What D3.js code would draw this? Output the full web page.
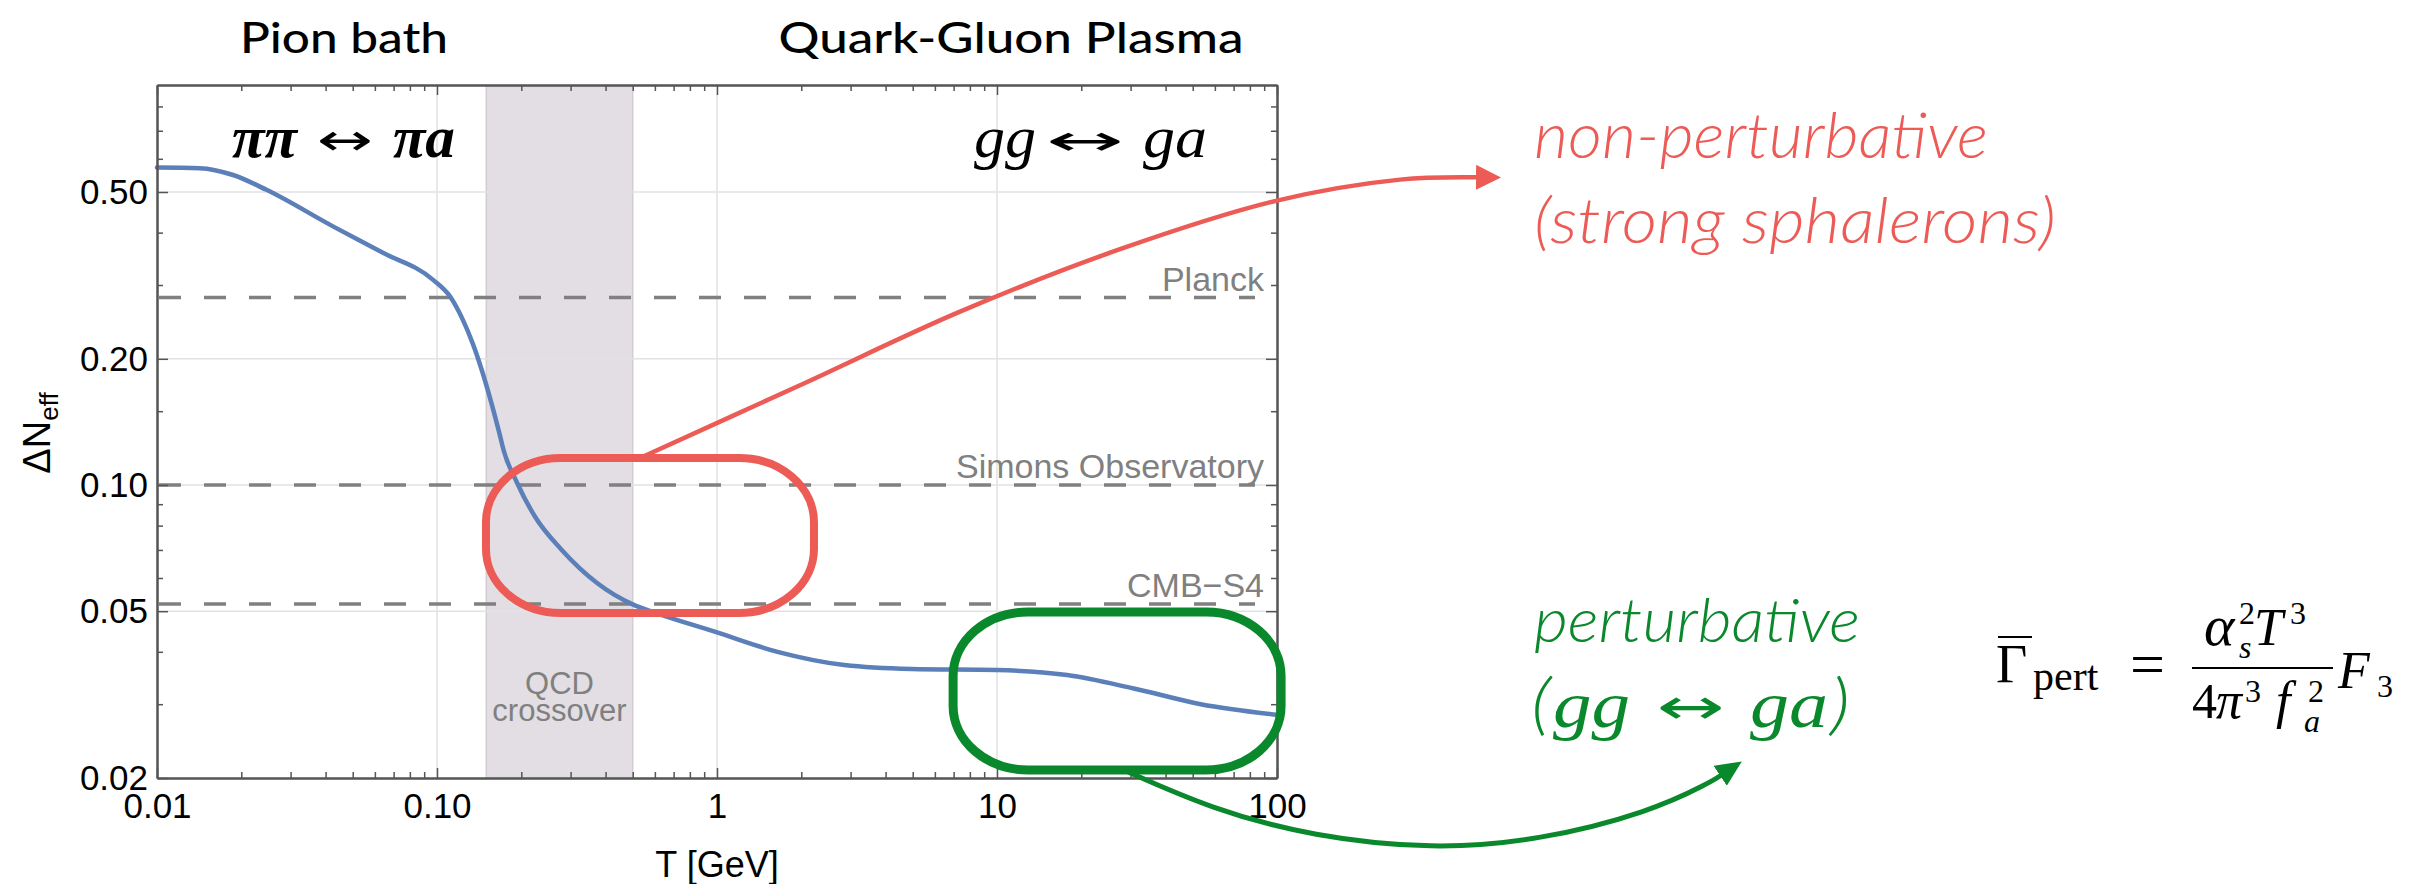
<!DOCTYPE html>
<html>
<head>
<meta charset="utf-8">
<script src="https://cdn.jsdelivr.net/npm/d3@7"></script>
<style>
  body { margin: 0; background: #fff; }
  svg { display: block; }
</style>
</head>
<body>
<script>
// Delta N_eff vs T
var tempGeV   = [0.01, 0.0142, 0.0187, 0.0246, 0.0425, 0.0641, 0.0966, 0.112, 0.1236, 0.134, 0.167, 0.173, 0.1935, 0.224, 0.279, 0.374, 0.5, 0.611, 1, 1.645, 2.85, 4.94, 10, 17.8, 30.8, 53.4, 100];
var deltaNeff = [0.572, 0.570, 0.549, 0.506, 0.414, 0.358, 0.309, 0.28, 0.248, 0.218, 0.133, 0.121, 0.101, 0.084, 0.070, 0.0583, 0.0519, 0.0494, 0.0445, 0.040, 0.0372, 0.0364, 0.0362, 0.0352, 0.0327, 0.030, 0.0283];

// experiment sensitivities
var expNames  = ["Planck", "Simons Observatory", "CMB\u2212S4"];
var expValues = [0.28, 0.10, 0.052];

// QCD crossover band [GeV]
var crossover = [0.15, 0.5];

// ticks
var xMajor  = [0.01, 0.1, 1, 10, 100];
var xLabels = ["0.01", "0.10", "1", "10", "100"];
var xMinor  = [0.02,0.03,0.04,0.05,0.06,0.07,0.08,0.09, 0.2,0.3,0.4,0.5,0.6,0.7,0.8,0.9, 2,3,4,5,6,7,8,9, 20,30,40,50,60,70,80,90];
var yMajor  = [0.02, 0.05, 0.1, 0.2, 0.5];
var yLabels = ["0.02", "0.05", "0.10", "0.20", "0.50"];
var yMinor  = [0.03, 0.04, 0.06, 0.07, 0.08, 0.09, 0.15, 0.3, 0.4, 0.6, 0.7, 0.8];
var xGrid = [0.1, 1, 10];
var yGrid = [0.05, 0.1, 0.2, 0.5];

// hand drawn annotations, in (T, dNeff) coordinates
var redLoop   = {t: [0.1496, 2.22], n: [0.0495, 0.116]};
var greenLoop = {t: [6.97, 103.4], n: [0.0209, 0.0498]};
var redArrowT   = [0.531, 1.979, 7.378, 27.5, 100, 275, 518];
var redArrowN   = [0.116, 0.1730, 0.2592, 0.3652, 0.4770, 0.5352, 0.542];
var greenArrowT = [27.5, 59.1, 134.5, 360.6, 869.6, 2148, 3519, 3852];
var greenArrowN = [0.0211, 0.0168, 0.0145, 0.0135, 0.0142, 0.0166, 0.0195, 0.0203];

var W = 2424, H = 884;
var plot = {left: 157, right: 1277, top: 85, bottom: 778};
var blue = "#5b7fb9", red = "#ec5b56", green = "#0a882c", grey = "#808080";
var sans = "'Liberation Sans', Arial, sans-serif";
var gill = "Lato, 'Open Sans', sans-serif";
var serif = "'Liberation Serif', 'Times New Roman', serif";
var arrowFont = "'DejaVu Sans', sans-serif";

var svg = d3.select("body").append("svg")
    .attr("width", W)
    .attr("height", H)
    .style("background", "#fff");

var x = d3.scaleLog().domain([0.01, 100]).range([plot.left, plot.right]);
var y = d3.scaleLog().domain([0.02, 0.9]).range([plot.bottom, plot.top]);

// arrow heads
var defs = svg.append("defs");
[["redHead", red, 25, 25], ["greenHead", green, 26, 24]].forEach(function(m){
    defs.append("marker")
        .attr("id", m[0])
        .attr("markerUnits", "userSpaceOnUse")
        .attr("markerWidth", m[2] + 2)
        .attr("markerHeight", m[3] + 2)
        .attr("refX", 1)
        .attr("refY", m[3] / 2)
        .attr("orient", "auto")
        .append("path")
        .attr("d", "M0,0 L" + m[2] + "," + (m[3] / 2) + " L0," + m[3] + " Z")
        .attr("fill", m[1]);
});

// crossover band
svg.append("rect")
    .attr("x", x(crossover[0]))
    .attr("y", plot.top)
    .attr("width", x(crossover[1]) - x(crossover[0]))
    .attr("height", plot.bottom - plot.top)
    .attr("fill", "#e3dee3");
svg.selectAll(".bandEdge")
    .data(crossover)
    .enter()
    .append("line")
    .attr("class", "bandEdge")
    .attr("x1", function(d){ return x(d); })
    .attr("x2", function(d){ return x(d); })
    .attr("y1", plot.top)
    .attr("y2", plot.bottom)
    .attr("stroke", "#d3ccd3")
    .attr("stroke-width", 1.5);

// grid
svg.selectAll(".vgrid")
    .data(xGrid)
    .enter()
    .append("line")
    .attr("class", "vgrid")
    .attr("x1", function(d){ return x(d); })
    .attr("x2", function(d){ return x(d); })
    .attr("y1", plot.top)
    .attr("y2", plot.bottom)
    .attr("stroke", "#e2e2e2")
    .attr("stroke-width", 1.5);
svg.selectAll(".hgrid")
    .data(yGrid)
    .enter()
    .append("line")
    .attr("class", "hgrid")
    .attr("x1", plot.left)
    .attr("x2", plot.right)
    .attr("y1", function(d){ return y(d); })
    .attr("y2", function(d){ return y(d); })
    .attr("stroke", "#e2e2e2")
    .attr("stroke-width", 1.5);

// experiment lines + labels
svg.selectAll(".expLine")
    .data(expValues)
    .enter()
    .append("line")
    .attr("class", "expLine")
    .attr("x1", plot.left + 2)
    .attr("x2", plot.right - 22)
    .attr("y1", function(d){ return y(d); })
    .attr("y2", function(d){ return y(d); })
    .attr("stroke", grey)
    .attr("stroke-width", 3.5)
    .attr("stroke-dasharray", "22,23");
svg.selectAll(".expLabel")
    .data(expValues)
    .enter()
    .append("text")
    .attr("class", "expLabel")
    .attr("x", plot.right - 13)
    .attr("y", function(d){ return y(d) - 7; })
    .attr("text-anchor", "end")
    .style("font-family", sans)
    .style("font-size", "34px")
    .attr("fill", grey)
    .text(function(d, i){ return expNames[i]; });

// QCD crossover label (one text, two lines)
var bandMid = (x(crossover[0]) + x(crossover[1])) / 2;
var qcd = svg.append("text")
    .attr("text-anchor", "middle")
    .style("font-family", sans).style("font-size", "31px")
    .attr("fill", grey);
qcd.append("tspan").attr("x", bandMid).attr("y", 694).text("QCD");
qcd.append("tspan").attr("x", bandMid).attr("y", 721).text("crossover");

// the curve
var curve = tempGeV.map(function(t, i){ return [t, deltaNeff[i]]; });
var line = d3.line()
    .x(function(d){ return x(d[0]); })
    .y(function(d){ return y(d[1]); })
    .curve(d3.curveMonotoneX);
svg.append("path")
    .datum(curve)
    .attr("d", line)
    .attr("fill", "none")
    .attr("stroke", blue)
    .attr("stroke-width", 4.5)
    .attr("stroke-linecap", "round");

// axes
function styleAxis(g){
    g.select(".domain").attr("stroke", "#555").attr("stroke-width", 2);
    g.selectAll(".tick line").attr("stroke", "#555").attr("stroke-width", 1.5);
    g.selectAll("text")
        .style("font-family", sans)
        .style("font-size", "35px")
        .attr("fill", "#000");
}
function addAxis(axis, tx, ty){
    svg.append("g")
        .attr("transform", "translate(" + tx + "," + ty + ")")
        .call(axis)
        .call(styleAxis);
}
addAxis(d3.axisBottom(x).tickValues(xMinor).tickFormat("").tickSizeInner(-6).tickSizeOuter(0), 0, plot.bottom);
addAxis(d3.axisBottom(x).tickValues(xMajor).tickFormat(function(d, i){ return xLabels[i]; })
    .tickSizeInner(-10).tickSizeOuter(0).tickPadding(15), 0, plot.bottom);
addAxis(d3.axisTop(x).tickValues(xMinor).tickFormat("").tickSizeInner(-6).tickSizeOuter(0), 0, plot.top);
addAxis(d3.axisTop(x).tickValues(xMajor).tickFormat("").tickSizeInner(-10).tickSizeOuter(0), 0, plot.top);
addAxis(d3.axisLeft(y).tickValues(yMinor).tickFormat("").tickSizeInner(-6).tickSizeOuter(0), plot.left, 0);
addAxis(d3.axisLeft(y).tickValues(yMajor).tickFormat(function(d, i){ return yLabels[i]; })
    .tickSizeInner(-11).tickSizeOuter(0).tickPadding(9), plot.left, 0);
addAxis(d3.axisRight(y).tickValues(yMinor).tickFormat("").tickSizeInner(-6).tickSizeOuter(0), plot.right, 0);
addAxis(d3.axisRight(y).tickValues(yMajor).tickFormat("").tickSizeInner(-11).tickSizeOuter(0), plot.right, 0);

// axis titles
svg.append("text")
    .attr("x", x(1)).attr("y", 877)
    .attr("text-anchor", "middle")
    .style("font-family", sans).style("font-size", "36px")
    .text("T [GeV]");
var yTitle = svg.append("text")
    .attr("transform", "translate(50,433) rotate(-90)")
    .attr("text-anchor", "middle")
    .style("font-family", sans).style("font-size", "38px")
    .text("\u0394N");
yTitle.append("tspan").attr("dy", 8).style("font-size", "26px").text("eff");

// regime titles
svg.append("text")
    .attr("x", 344).attr("y", 53)
    .attr("text-anchor", "middle")
    .attr("textLength", 208).attr("lengthAdjust", "spacingAndGlyphs")
    .style("font-family", gill).style("font-size", "42px").style("font-weight", 500)
    .text("Pion bath");
svg.append("text")
    .attr("x", 1011).attr("y", 53)
    .attr("text-anchor", "middle")
    .attr("textLength", 465).attr("lengthAdjust", "spacingAndGlyphs")
    .style("font-family", gill).style("font-size", "42px").style("font-weight", 500)
    .text("Quark-Gluon Plasma");

// process labels: each piece as [text, left, width, font, size, italic, weight]
function piece(p, ty, color){
    svg.append("text")
        .attr("x", p[1]).attr("y", ty)
        .attr("textLength", p[2]).attr("lengthAdjust", "spacingAndGlyphs")
        .attr("fill", color)
        .style("font-family", p[3])
        .style("font-size", p[4] + "px")
        .style("font-style", p[5] ? "italic" : "normal")
        .style("font-weight", p[6])
        .text(p[0]);
}
[
    ["\u03c0\u03c0", 232, 65, serif, 60, true, "bold"],
    ["\u03c0a", 393, 62, serif, 60, true, "bold"]
].forEach(function(p){ piece(p, 157, "#000"); });
piece(["\u2194", 317, 56, arrowFont, 44, false, "normal"], 155, "#000");
[
    ["gg", 974, 62, serif, 60, true, "normal"],
    ["ga", 1143, 64, serif, 60, true, "normal"]
].forEach(function(p){ piece(p, 157, "#000"); });
piece(["\u2194", 1046, 78, arrowFont, 42, false, "normal"], 155, "#000");

// loops
function loop(spec, color, width){
    svg.append("rect")
        .attr("x", x(spec.t[0]))
        .attr("y", y(spec.n[1]))
        .attr("width", x(spec.t[1]) - x(spec.t[0]))
        .attr("height", y(spec.n[0]) - y(spec.n[1]))
        .attr("rx", 75).attr("ry", 64)
        .attr("fill", "none")
        .attr("stroke", color)
        .attr("stroke-width", width);
}
loop(redLoop, red, 8);
loop(greenLoop, green, 9);

// arrows
var arrowLine = d3.line()
    .x(function(d){ return x(d[0]); })
    .y(function(d){ return y(d[1]); })
    .curve(d3.curveCatmullRom);
svg.append("path")
    .datum(redArrowT.map(function(t, i){ return [t, redArrowN[i]]; }))
    .attr("d", arrowLine)
    .attr("fill", "none")
    .attr("stroke", red)
    .attr("stroke-width", 4.5)
    .attr("marker-end", "url(#redHead)");
svg.append("path")
    .datum(greenArrowT.map(function(t, i){ return [t, greenArrowN[i]]; }))
    .attr("d", arrowLine.curve(d3.curveBasis))
    .attr("fill", "none")
    .attr("stroke", green)
    .attr("stroke-width", 5)
    .attr("marker-end", "url(#greenHead)");

// side notes
svg.append("text")
    .attr("x", 1534).attr("y", 158)
    .attr("textLength", 454).attr("lengthAdjust", "spacingAndGlyphs")
    .style("font-family", gill).style("font-size", "64px")
    .style("font-style", "italic").style("font-weight", 300)
    .attr("fill", red)
    .text("non-perturbative");
svg.append("text")
    .attr("x", 1534).attr("y", 243)
    .attr("textLength", 522).attr("lengthAdjust", "spacingAndGlyphs")
    .style("font-family", gill).style("font-size", "64px")
    .style("font-style", "italic").style("font-weight", 300)
    .attr("fill", red)
    .text("(strong sphalerons)");
svg.append("text")
    .attr("x", 1534).attr("y", 642)
    .attr("textLength", 326).attr("lengthAdjust", "spacingAndGlyphs")
    .style("font-family", gill).style("font-size", "62px")
    .style("font-style", "italic").style("font-weight", 300)
    .attr("fill", green)
    .text("perturbative");
[
    ["(", 1531, 20, gill, 68, true, 300],
    ["gg", 1553, 77, serif, 66, true, "normal"],
    ["ga", 1750, 78, serif, 66, true, "normal"],
    [")", 1830, 20, gill, 68, true, 300]
].forEach(function(p){ piece(p, 727, green); });
piece(["\u2194", 1657, 68, arrowFont, 50, false, "normal"], 724, green);

// rate formula, one text with positioned pieces: [text, x, y, size, italic]
var formula = [
    ["\u0393", 1996, 682, 54, false],
    ["pert", 2033, 690, 42, false],
    ["=", 2130, 685, 62, false],
    ["\u03b1", 2204, 645, 58, true],
    ["2", 2239, 624, 32, false],
    ["s", 2239, 658, 32, true],
    ["T", 2254, 645, 52, true],
    ["3", 2290, 624, 32, false],
    ["4", 2192, 718, 50, false],
    ["\u03c0", 2216, 718, 52, true],
    ["3", 2245, 702, 32, false],
    ["f", 2276, 718, 52, true],
    ["a", 2304, 732, 32, true],
    ["2", 2308, 702, 32, false],
    ["F", 2338, 688, 52, true],
    ["3", 2377, 697, 32, false]
];
var f = svg.append("g").attr("fill", "#000");
f.append("line").attr("x1", 1998).attr("x2", 2032).attr("y1", 637).attr("y2", 637).attr("stroke", "#000").attr("stroke-width", 2.2);
f.append("line").attr("x1", 2192).attr("x2", 2333).attr("y1", 668).attr("y2", 668).attr("stroke", "#000").attr("stroke-width", 2.2);
var ftext = f.append("text").style("font-family", serif);
formula.forEach(function(p){
    ftext.append("tspan")
        .attr("x", p[1]).attr("y", p[2])
        .style("font-size", p[3] + "px")
        .style("font-style", p[4] ? "italic" : "normal")
        .text(p[0]);
});
</script>
</body>
</html>
